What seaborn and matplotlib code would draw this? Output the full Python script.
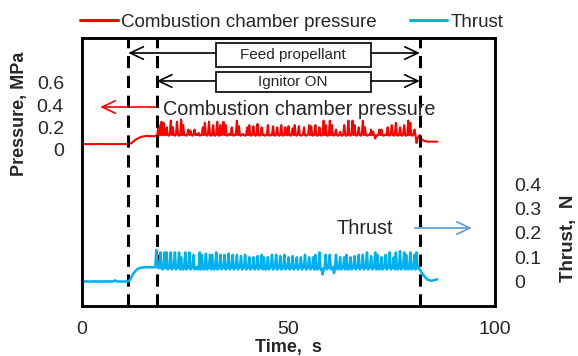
import numpy as np
import pandas as pd
import matplotlib
matplotlib.use("Agg")
import matplotlib.pyplot as plt
import seaborn as sns
from matplotlib.patches import Rectangle

# ---------------- data (sampled every 0.25 s, t = 0 ... 86 s) ----------------
time_start = 0.0
time_step = 0.25

pressure_mpa = [
    # 0 - 4.75 s
    0.050, 0.050, 0.051, 0.050, 0.050, 0.049, 0.050, 0.050, 0.051, 0.050,
    0.050, 0.050, 0.049, 0.051, 0.050, 0.050, 0.050, 0.051, 0.050, 0.050,
    # 5 - 9.75 s
    0.050, 0.051, 0.050, 0.050, 0.049, 0.050, 0.050, 0.051, 0.050, 0.050,
    0.050, 0.050, 0.051, 0.050, 0.050, 0.049, 0.050, 0.050, 0.051, 0.050,
    # 10 - 14.75 s
    0.050, 0.050, 0.050, 0.050, 0.050, 0.051, 0.052, 0.056, 0.060, 0.067,
    0.075, 0.083, 0.090, 0.095, 0.100, 0.105, 0.110, 0.113, 0.115, 0.118,
    # 15 - 19.75 s
    0.120, 0.122, 0.123, 0.123, 0.122, 0.121, 0.121, 0.122, 0.122, 0.121,
    0.120, 0.122, 0.130, 0.130, 0.220, 0.130, 0.130, 0.250, 0.130, 0.240,
    # 20 - 24.75 s
    0.130, 0.130, 0.200, 0.130, 0.125, 0.135, 0.260, 0.130, 0.200, 0.130,
    0.125, 0.135, 0.250, 0.130, 0.125, 0.130, 0.270, 0.130, 0.220, 0.130,
    # 25 - 29.75 s
    0.130, 0.125, 0.135, 0.180, 0.130, 0.170, 0.130, 0.125, 0.135, 0.180,
    0.130, 0.140, 0.130, 0.150, 0.125, 0.130, 0.130, 0.200, 0.130, 0.240,
    # 30 - 34.75 s
    0.130, 0.125, 0.135, 0.250, 0.130, 0.125, 0.130, 0.220, 0.130, 0.125,
    0.135, 0.250, 0.130, 0.125, 0.220, 0.130, 0.135, 0.250, 0.130, 0.220,
    # 35 - 39.75 s
    0.130, 0.125, 0.135, 0.140, 0.130, 0.200, 0.130, 0.125, 0.135, 0.130,
    0.260, 0.130, 0.210, 0.130, 0.125, 0.135, 0.140, 0.130, 0.125, 0.130,
    # 40 - 44.75 s
    0.200, 0.130, 0.220, 0.130, 0.125, 0.135, 0.210, 0.130, 0.125, 0.130,
    0.230, 0.130, 0.125, 0.135, 0.200, 0.130, 0.135, 0.125, 0.130, 0.130,
    # 45 - 49.75 s
    0.220, 0.130, 0.125, 0.135, 0.130, 0.210, 0.130, 0.125, 0.135, 0.200,
    0.130, 0.125, 0.130, 0.220, 0.130, 0.125, 0.135, 0.200, 0.130, 0.130,
    # 50 - 54.75 s
    0.210, 0.130, 0.125, 0.135, 0.190, 0.130, 0.220, 0.130, 0.125, 0.135,
    0.210, 0.130, 0.125, 0.130, 0.135, 0.200, 0.130, 0.125, 0.130, 0.135,
    # 55 - 59.75 s
    0.220, 0.130, 0.210, 0.130, 0.125, 0.135, 0.220, 0.130, 0.125, 0.130,
    0.200, 0.130, 0.125, 0.135, 0.260, 0.130, 0.220, 0.130, 0.125, 0.130,
    # 60 - 64.75 s
    0.260, 0.130, 0.220, 0.130, 0.125, 0.135, 0.180, 0.130, 0.125, 0.130,
    0.160, 0.130, 0.125, 0.135, 0.220, 0.130, 0.125, 0.130, 0.260, 0.130,
    # 65 - 69.75 s
    0.125, 0.135, 0.260, 0.130, 0.220, 0.130, 0.125, 0.135, 0.200, 0.130,
    0.125, 0.135, 0.260, 0.130, 0.200, 0.130, 0.125, 0.130, 0.135, 0.130,
    # 70 - 74.75 s
    0.180, 0.130, 0.160, 0.130, 0.100, 0.130, 0.125, 0.135, 0.180, 0.130,
    0.180, 0.130, 0.125, 0.130, 0.135, 0.130, 0.200, 0.130, 0.125, 0.135,
    # 75 - 79.75 s
    0.220, 0.130, 0.125, 0.135, 0.240, 0.130, 0.125, 0.130, 0.200, 0.130,
    0.125, 0.135, 0.220, 0.130, 0.125, 0.130, 0.260, 0.130, 0.240, 0.130,
    # 80 - 84.75 s
    0.125, 0.135, 0.180, 0.130, 0.060, 0.100, 0.120, 0.130, 0.110, 0.095,
    0.085, 0.080, 0.077, 0.075, 0.073, 0.072, 0.072, 0.072, 0.072, 0.072,
    # 85 - 86 s
    0.072, 0.072, 0.072, 0.072, 0.072,
]

thrust_n = [
    # 0 - 4.75 s
    0.000, 0.001, 0.000, 0.000, 0.002, 0.000, 0.001, 0.000, 0.000, 0.001,
    0.000, 0.001, 0.000, 0.002, 0.000, 0.001, 0.000, 0.001, 0.000, 0.001,
    # 5 - 9.75 s
    0.000, 0.001, 0.000, 0.002, 0.000, 0.001, 0.000, 0.002, 0.001, 0.000,
    0.001, 0.002, 0.005, 0.003, 0.001, 0.000, 0.001, 0.000, 0.001, 0.000,
    # 10 - 14.75 s
    0.000, 0.001, 0.000, 0.001, 0.000, 0.002, 0.005, 0.012, 0.020, 0.028,
    0.035, 0.040, 0.045, 0.049, 0.052, 0.054, 0.056, 0.057, 0.058, 0.058,
    # 15 - 19.75 s
    0.058, 0.059, 0.060, 0.059, 0.058, 0.060, 0.059, 0.060, 0.058, 0.059,
    0.060, 0.059, 0.130, 0.060, 0.055, 0.060, 0.120, 0.055, 0.050, 0.058,
    # 20 - 24.75 s
    0.120, 0.055, 0.120, 0.050, 0.060, 0.055, 0.120, 0.050, 0.055, 0.060,
    0.120, 0.050, 0.055, 0.060, 0.120, 0.050, 0.100, 0.055, 0.050, 0.060,
    # 25 - 29.75 s
    0.120, 0.050, 0.055, 0.060, 0.120, 0.050, 0.055, 0.060, 0.110, 0.050,
    0.055, 0.060, 0.050, 0.055, 0.120, 0.050, 0.110, 0.055, 0.050, 0.060,
    # 30 - 34.75 s
    0.115, 0.050, 0.055, 0.060, 0.110, 0.050, 0.110, 0.055, 0.050, 0.060,
    0.120, 0.050, 0.055, 0.060, 0.110, 0.050, 0.055, 0.060, 0.110, 0.050,
    # 35 - 39.75 s
    0.055, 0.060, 0.115, 0.050, 0.055, 0.060, 0.110, 0.050, 0.055, 0.060,
    0.110, 0.050, 0.055, 0.060, 0.105, 0.050, 0.055, 0.060, 0.110, 0.050,
    # 40 - 44.75 s
    0.055, 0.060, 0.100, 0.050, 0.055, 0.060, 0.100, 0.050, 0.055, 0.060,
    0.105, 0.050, 0.055, 0.060, 0.110, 0.050, 0.100, 0.055, 0.050, 0.060,
    # 45 - 49.75 s
    0.100, 0.050, 0.055, 0.060, 0.110, 0.050, 0.055, 0.060, 0.110, 0.050,
    0.055, 0.060, 0.105, 0.050, 0.055, 0.060, 0.110, 0.050, 0.055, 0.060,
    # 50 - 54.75 s
    0.100, 0.050, 0.055, 0.060, 0.105, 0.050, 0.055, 0.060, 0.100, 0.050,
    0.055, 0.060, 0.100, 0.050, 0.055, 0.060, 0.110, 0.050, 0.055, 0.060,
    # 55 - 59.75 s
    0.100, 0.050, 0.055, 0.060, 0.100, 0.050, 0.110, 0.055, 0.050, 0.060,
    0.120, 0.050, 0.055, 0.030, 0.050, 0.060, 0.110, 0.050, 0.055, 0.060,
    # 60 - 64.75 s
    0.110, 0.050, 0.055, 0.060, 0.035, 0.050, 0.110, 0.055, 0.050, 0.060,
    0.100, 0.050, 0.055, 0.060, 0.100, 0.050, 0.110, 0.055, 0.050, 0.060,
    # 65 - 69.75 s
    0.100, 0.050, 0.055, 0.060, 0.105, 0.050, 0.055, 0.060, 0.110, 0.050,
    0.055, 0.060, 0.110, 0.050, 0.055, 0.060, 0.120, 0.050, 0.055, 0.060,
    # 70 - 74.75 s
    0.105, 0.050, 0.055, 0.060, 0.120, 0.050, 0.110, 0.055, 0.050, 0.060,
    0.100, 0.050, 0.055, 0.060, 0.110, 0.050, 0.055, 0.060, 0.120, 0.050,
    # 75 - 79.75 s
    0.055, 0.060, 0.100, 0.050, 0.120, 0.055, 0.050, 0.060, 0.125, 0.050,
    0.055, 0.060, 0.120, 0.050, 0.110, 0.055, 0.050, 0.060, 0.120, 0.050,
    # 80 - 84.75 s
    0.055, 0.060, 0.110, 0.050, 0.120, 0.055, 0.058, 0.050, 0.045, 0.037,
    0.030, 0.025, 0.020, 0.015, 0.010, 0.008, 0.006, 0.005, 0.004, 0.004,
    # 85 - 86 s
    0.005, 0.006, 0.007, 0.008, 0.010,
]

event_times = [11.2, 18.1, 81.8]          # dashed markers
feed_span = [11.2, 81.8]                  # "Feed propellant"
ignitor_span = [18.1, 81.8]               # "Ignitor ON"

x_ticks = [0, 50, 100]
p_ticks = [0, 0.2, 0.4, 0.6]
p_tick_labels = ["0", "0.2", "0.4", "0.6"]
f_ticks = [0, 0.1, 0.2, 0.3, 0.4]
f_tick_labels = ["0", "0.1", "0.2", "0.3", "0.4"]

series_names = ["Combustion chamber pressure", "Thrust"]

# ---------------- build frame ----------------
n = len(pressure_mpa)
time_s = time_start + time_step * np.arange(n)
df = pd.DataFrame({"time": time_s, "pressure": pressure_mpa, "thrust": thrust_n})

# ---------------- style ----------------
sns.set_style("white")
plt.rcParams["font.family"] = ["Liberation Sans", "DejaVu Sans"]

RED = "#FF0000"
BLUE = "#00B0F0"
ARROW_BLUE = "#5B9BD5"
TICK_FS = 14
LABEL_FS = 13.5

fig = plt.figure(figsize=(5.78, 3.56), dpi=100)
ax = fig.add_axes([82 / 578, 50 / 356, 413 / 578, 268 / 356])
ax2 = ax.twinx()

sns.lineplot(data=df, x="time", y="pressure", ax=ax, color=RED, lw=1.5,
             estimator=None, label=series_names[0], legend=False)
sns.lineplot(data=df, x="time", y="thrust", ax=ax2, color=BLUE, lw=1.8,
             estimator=None, label=series_names[1], legend=False)

ax.set_xlim(0, 100)
ax.set_ylim(-1.4, 1.0)
ax2.set_ylim(-0.1, 1.0)

ax.set_xticks(x_ticks)
ax.set_xticklabels([str(v) for v in x_ticks], fontsize=TICK_FS)
ax.set_yticks(p_ticks)
ax.set_yticklabels(p_tick_labels, fontsize=TICK_FS)
ax2.set_yticks(f_ticks)
ax2.set_yticklabels(f_tick_labels, fontsize=TICK_FS)

ax.tick_params(axis="both", length=0)
ax.tick_params(axis="x", pad=11)
ax.tick_params(axis="y", pad=13)
ax2.tick_params(axis="y", length=0, pad=14)

for a in (ax, ax2):
    for s in a.spines.values():
        s.set_visible(True)
        s.set_color("black")
        s.set_linewidth(1.8)

ax.set_xlabel("Time,  s", fontsize=13, fontweight="bold", labelpad=0.5)
ax.set_ylabel("")
ax2.set_ylabel("")
fig.text(20 / 578, 1 - 114 / 356, "Pressure, MPa", rotation=90, fontsize=13,
         fontweight="bold", ha="center", va="center")
fig.text(568 / 578, 1 - 238 / 356, "Thrust,  N", rotation=90, fontsize=LABEL_FS,
         fontweight="bold", ha="center", va="center")

# dashed event lines
for t in event_times:
    ax.axvline(t, color="black", lw=2.2, ls=(0, (4, 2.5)), zorder=5)

# annotation boxes + arrows
xtrans = ax.get_xaxis_transform()
box_x0, box_x1 = 32.4, 69.9
ARROW = "->,head_length=0.95,head_width=0.45"
for (y0, y1, ymid, label, span) in [
        (0.8918, 0.9813, 0.944, "Feed propellant", feed_span),
        (0.7985, 0.873, 0.8396, "Ignitor ON", ignitor_span)]:
    ax.add_patch(Rectangle((box_x0, y0), box_x1 - box_x0, y1 - y0,
                           transform=xtrans, facecolor="white",
                           edgecolor="black", lw=1.2, zorder=6))
    ax.text((box_x0 + box_x1) / 2, (y0 + y1) / 2, label, transform=xtrans,
            ha="center", va="center", fontsize=11, zorder=7)
    for x_from, x_to in [(box_x0, span[0]), (box_x1, span[1])]:
        ax.annotate("", xy=(x_to, ymid), xytext=(x_from, ymid),
                    xycoords=xtrans, textcoords=xtrans,
                    arrowprops=dict(arrowstyle=ARROW, color="black", lw=1.2,
                                    shrinkA=0, shrinkB=0), zorder=7)

# series callouts
ax.text(19.6, 0.733, series_names[0], transform=xtrans, fontsize=14.3,
        ha="left", va="center", zorder=7)
ax.annotate("", xy=(4.4, 0.7425), xytext=(17.9, 0.7425),
            xycoords=xtrans, textcoords=xtrans,
            arrowprops=dict(arrowstyle=ARROW, color=RED, lw=1.2,
                            shrinkA=0, shrinkB=0))
ax.text(61.7, 0.289, series_names[1], transform=xtrans, fontsize=14.3,
        ha="left", va="center", zorder=7)
ax.annotate("", xy=(94.4, 0.291), xytext=(80.6, 0.291),
            xycoords=xtrans, textcoords=xtrans,
            arrowprops=dict(arrowstyle=ARROW, color=ARROW_BLUE, lw=1.2,
                            shrinkA=0, shrinkB=0))

# legend above the plot
handles = [ax.get_lines()[0], ax2.get_lines()[0]]
leg = fig.legend(handles, series_names, loc="center left",
                 bbox_to_anchor=(80 / 578, 1 - 22 / 356), ncol=2, frameon=False,
                 fontsize=13.5, handlelength=2.0, handletextpad=0.2,
                 columnspacing=1.75, borderaxespad=0, borderpad=0)
for lh in leg.get_lines():
    lh.set_linewidth(2.2)

fig.savefig("out.png", dpi=100)
